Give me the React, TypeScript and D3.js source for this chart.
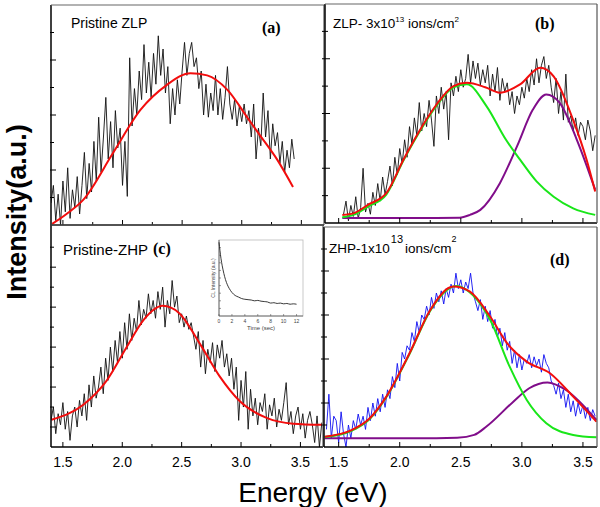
import React, { useEffect, useRef } from 'react';
import * as d3 from 'd3';

// all raw spectra are sampled every 0.02 eV
const eStep = 0.02;

// (a) Pristine ZLP, raw spectrum from 1.40 eV
const rawAStart = 1.40;
const rawA = [
  10, 18, 2, 14, 0, 20, 6, 26, 3, 16, 8, 22, 5, 18, 33, 12, 28, 15, 38, 20,
  49, 24, 40, 58, 30, 47, 26, 52, 35, 44, 18, 38, 13, 76, 45, 62, 50, 70, 57, 82,
  60, 74, 58, 78, 64, 86, 68, 80, 60, 72, 46, 62, 50, 66, 55, 70, 83, 68, 78, 83,
  72, 76, 62, 70, 50, 64, 49, 60, 52, 68, 50, 62, 48, 58, 72, 55, 48, 57, 45, 54,
  47, 55, 46, 52, 40, 55, 30, 44, 36, 60, 40, 52, 30, 46, 36, 42, 28, 38, 24, 34,
  26, 39, 30,
];

// (b) ZLP 3x10^13, raw spectrum from 1.54 eV
const rawBStart = 1.54;
const rawB = [
  4, 10, 1, 8, 3, 12, 2, 7, 25, 5, 9, 4, 14, 8, 18, 10, 21, 13, 19, 26,
  17, 30, 22, 34, 27, 38, 30, 44, 36, 48, 40, 55, 42, 50, 44, 56, 47, 35, 58, 50,
  62, 52, 60, 38, 64, 58, 67, 60, 70, 62, 66, 77, 64, 74, 66, 73, 63, 70, 64, 72,
  58, 68, 60, 71, 56, 66, 60, 64, 54, 60, 50, 58, 54, 62, 57, 66, 60, 70, 63, 75,
  64, 72, 76, 66, 72, 62, 55, 66, 50, 60, 47, 68, 46, 49, 42, 48, 40, 46, 44, 38,
  47, 42, 33, 40,
];

// (c) Pristine ZHP, raw spectrum from 1.40 eV
const rawCStart = 1.40;
const rawC = [
  12, 18, 6, 15, 10, 20, 8, 16, 3, 14, 18, 9, 21, 14, 24, 12, 28, 18, 32, 22,
  27, 36, 24, 40, 30, 45, 34, 48, 38, 52, 40, 56, 44, 60, 48, 58, 52, 66, 55, 62,
  58, 69, 60, 66, 58, 70, 62, 72, 54, 66, 60, 75, 63, 68, 56, 60, 54, 59, 53, 56,
  50, 44, 52, 36, 48, 33, 44, 38, 47, 34, 46, 40, 48, 36, 42, 32, 40, 26, 36, 12,
  30, 18, 34, 8, 26, 14, 22, 10, 20, 16, 24, 8, 19, 14, 22, 9, 17, 12, 20, 29,
  10, 16, 6, 14, 18, 8, 15, 4, 12, 16, 10, 2, 14, 0, 11,
];

// (d) ZHP 1x10^13, raw spectrum from 1.40 eV
const rawDStart = 1.40;
const rawD = [
  8, 24, 4, 14, 12, 2, 16, 6, 0, 10, 4, 12, 8, 15, 10, 14, 8, 18, 12, 20,
  14, 22, 16, 24, 18, 26, 22, 32, 27, 38, 30, 43, 40, 46, 44, 52, 48, 57, 52, 60,
  58, 64, 60, 68, 63, 70, 66, 71, 65, 72, 68, 74, 70, 79, 72, 76, 70, 75, 72, 79,
  70, 66, 62, 67, 58, 64, 57, 62, 54, 58, 50, 54, 46, 52, 44, 48, 38, 44, 36, 42,
  35, 40, 38, 42, 36, 41, 37, 40, 34, 42, 38, 36, 30, 28, 24, 29, 22, 26, 18, 24,
  16, 21, 14, 20, 15, 19, 13, 18, 12, 17, 14,
];

// fitted curves, [energy eV, intensity]
const fitA: [number, number][] = [
  [1.41, 0.5], [1.53, 5], [1.67, 11.4], [1.92, 32.7], [2.15, 52.3], [2.37, 63.6],
  [2.57, 69], [2.71, 68], [2.88, 61.4], [3.05, 48.6], [3.15, 41], [3.30, 29.5], [3.43, 17.3],
];
const fitBTotal: [number, number][] = [
  [1.53, 3.7], [1.62, 4.4], [1.74, 8.3], [1.89, 13.6], [2.03, 28.9], [2.15, 41],
  [2.30, 54], [2.44, 62.5], [2.55, 64], [2.70, 62], [2.82, 59.5], [2.985, 63.3],
  [3.15, 70.9], [3.26, 67], [3.42, 47], [3.53, 28.9], [3.60, 14.4],
];
const fitBLow: [number, number][] = [
  [1.53, 2.6], [1.62, 3.7], [1.74, 7.5], [1.89, 13], [2.03, 28.5], [2.15, 40.5],
  [2.30, 53.5], [2.44, 62], [2.55, 63.3], [2.71, 53.4], [2.87, 38], [2.985, 28.9],
  [3.12, 19], [3.26, 12], [3.42, 6.7], [3.60, 3.7],
];
const fitBHigh: [number, number][] = [
  [1.53, 2.3], [2.30, 2.3], [2.49, 2.4], [2.575, 3.7], [2.66, 6], [2.82, 18.2],
  [2.96, 35], [3.09, 51.8], [3.20, 58.7], [3.31, 54.9], [3.45, 38], [3.60, 15.2],
];
const fitC: [number, number][] = [
  [1.405, 12.3], [1.672, 19], [1.87, 30], [2.04, 45.3], [2.18, 57.3], [2.34, 63.6],
  [2.48, 60.3], [2.65, 46.8], [2.82, 31.8], [2.99, 20.6], [3.22, 13], [3.44, 10.5], [3.68, 10],
];
const fitDTotal: [number, number][] = [
  [1.386, 4.7], [1.61, 7.8], [1.75, 12.8], [1.89, 22.9], [2.08, 42.6], [2.25, 62.3],
  [2.44, 72.9], [2.575, 70.6], [2.74, 59.3], [2.88, 47.1], [3.04, 38.8], [3.23, 33.5],
  [3.42, 22.9], [3.61, 11.5],
];
const fitDLow: [number, number][] = [
  [1.386, 4.5], [1.61, 7.5], [1.75, 12.5], [1.89, 22.6], [2.08, 42.3], [2.25, 62],
  [2.46, 73.2], [2.60, 69], [2.74, 57.8], [2.90, 36.5], [3.04, 21.4], [3.20, 10.8],
  [3.42, 5.5], [3.61, 4.4],
];
const fitDHigh: [number, number][] = [
  [1.386, 4], [2.30, 4], [2.47, 4.2], [2.61, 5.5], [2.71, 9.3], [2.93, 20.6],
  [3.06, 26.7], [3.21, 29.3], [3.36, 25.9], [3.61, 12.3],
];

// inset: CL intensity decay vs time (sec)
const insetDecay: [number, number][] = [
  [0, 0.97], [0.15, 0.86], [0.3, 0.76], [0.5, 0.66], [0.75, 0.56], [1.0, 0.48],
  [1.3, 0.41], [1.6, 0.36], [2.0, 0.31], [2.5, 0.27], [3.0, 0.25], [3.5, 0.23],
  [4.0, 0.22], [4.5, 0.215], [5.0, 0.21], [5.5, 0.2], [6.0, 0.205], [6.5, 0.195],
  [7.0, 0.19], [7.5, 0.185], [8.0, 0.17], [8.5, 0.175], [9.0, 0.165], [9.5, 0.17],
  [10.0, 0.16], [10.5, 0.165], [11.0, 0.155], [11.5, 0.16], [12.0, 0.155],
];

const energyTicks = [1.5, 1.75, 2.0, 2.25, 2.5, 2.75, 3.0, 3.25, 3.5];
const energyLabels = [1.5, 2.0, 2.5, 3.0, 3.5];
const yTicksTop = [12.5, 25, 37.5, 50, 62.5, 75, 87.5];
const yTicksC = [9, 18, 27, 36, 45, 54, 63, 72, 81, 90];
const yTicksD = [10, 20, 30, 40, 50, 60, 70, 80, 90];
const insetTimeTicks = [0, 2, 4, 6, 8, 10, 12];
const insetYTicks = [0.1, 0.2, 0.3, 0.4, 0.5, 0.6, 0.7, 0.8, 0.9];

const RED = '#f20d0d';
const GREEN = '#19e619';
const PURPLE = '#800d8a';
const BLUE = '#1010f0';
const SANS = '"Liberation Sans", Arial, sans-serif';
const SERIF = '"Liberation Serif", "Times New Roman", serif';

const App: React.FC = () => {
  const svgRef = useRef<SVGSVGElement>(null);

  useEffect(() => {
    if (!svgRef.current) return;
    const svg = d3.select(svgRef.current);
    svg.selectAll('*').remove();

    const leftDomain: [number, number] = [1.4, 3.69];
    const rightDomain: [number, number] = [1.38, 3.615];

    const panels = [
      { key: 'a', x0: 51, x1: 324, y0: 5, y1: 225, dom: leftDomain, raw: rawA, start: rawAStart, rawColor: '#111',
        fits: [{ d: fitA, c: RED }], yTicks: yTicksTop, major: (v: number) => v % 25 === 0, cross: false, labels: false },
      { key: 'b', x0: 325, x1: 597, y0: 4, y1: 223, dom: rightDomain, raw: rawB, start: rawBStart, rawColor: '#111',
        fits: [{ d: fitBHigh, c: PURPLE }, { d: fitBLow, c: GREEN }, { d: fitBTotal, c: RED }],
        yTicks: yTicksTop, major: (v: number) => v % 25 === 0, cross: true, labels: false },
      { key: 'c', x0: 51, x1: 323, y0: 225, y1: 447, dom: leftDomain, raw: rawC, start: rawCStart, rawColor: '#111',
        fits: [{ d: fitC, c: RED }], yTicks: yTicksC, major: (v: number) => (v / 9) % 2 === 1, cross: false, labels: true },
      { key: 'd', x0: 324, x1: 597, y0: 227, y1: 447, dom: rightDomain, raw: rawD, start: rawDStart, rawColor: BLUE,
        fits: [{ d: fitDHigh, c: PURPLE }, { d: fitDLow, c: GREEN }, { d: fitDTotal, c: RED }],
        yTicks: yTicksD, major: (v: number) => v % 20 === 0, cross: true, labels: true },
    ];

    const defs = svg.append('defs');

    panels.forEach(p => {
      const x = d3.scaleLinear().domain(p.dom).range([p.key === 'b' ? 324 : p.x0, p.x1]);
      const y = d3.scaleLinear().domain([0, 100]).range([p.y1, p.y0]);
      const g = svg.append('g');

      defs.append('clipPath').attr('id', `clip-${p.key}`)
        .append('rect').attr('x', p.x0).attr('y', p.y0)
        .attr('width', p.x1 - p.x0).attr('height', p.y1 - p.y0);

      const plot = g.append('g').attr('clip-path', `url(#clip-${p.key})`);
      const rawLine = d3.line<number>()
        .x((_, i) => x(p.start + i * eStep))
        .y(v => y(v));
      plot.append('path').datum(p.raw)
        .attr('d', rawLine)
        .attr('fill', 'none')
        .attr('stroke', p.rawColor)
        .attr('stroke-width', 0.9);

      const fitLine = d3.line<[number, number]>()
        .x(d => x(d[0]))
        .y(d => y(d[1]))
        .curve(d3.curveMonotoneX);
      p.fits.forEach(f => {
        plot.append('path').datum(f.d)
          .attr('d', fitLine)
          .attr('fill', 'none')
          .attr('stroke', f.c)
          .attr('stroke-width', 2);
      });

      // frame
      g.append('line').attr('x1', p.x0).attr('x2', p.x0).attr('y1', p.y0).attr('y2', p.y1)
        .attr('stroke', '#000').attr('stroke-width', 1.5);
      g.append('line').attr('x1', p.x0).attr('x2', p.x1).attr('y1', p.y1).attr('y2', p.y1)
        .attr('stroke', '#000').attr('stroke-width', 1.5);
      g.append('line').attr('x1', p.x0).attr('x2', p.x1).attr('y1', p.y0).attr('y2', p.y0)
        .attr('stroke', '#666').attr('stroke-width', 1.2);
      g.append('line').attr('x1', p.x1).attr('x2', p.x1).attr('y1', p.y0).attr('y2', p.y1)
        .attr('stroke', '#555').attr('stroke-width', 1.2);

      // bottom ticks (inward)
      g.selectAll('.xt').data(energyTicks).enter().append('line')
        .attr('x1', d => x(d)).attr('x2', d => x(d))
        .attr('y1', p.y1).attr('y2', d => p.y1 - (d % 0.5 === 0 ? 5 : 3))
        .attr('stroke', '#000').attr('stroke-width', 1);

      // left ticks
      g.selectAll('.yt').data(p.yTicks).enter().append('line')
        .attr('x1', p.cross ? p.x0 - 3 : p.x0 - 1)
        .attr('x2', d => p.x0 + (p.major(d) ? 5 : 3))
        .attr('y1', d => y(d)).attr('y2', d => y(d))
        .attr('stroke', '#000').attr('stroke-width', 1);

      if (p.labels) {
        g.selectAll('.xl').data(energyLabels).enter().append('text')
          .attr('x', d => x(d))
          .attr('y', 467)
          .attr('text-anchor', 'middle')
          .style('font-family', SANS)
          .style('font-size', '14px')
          .text(d => d.toFixed(1));
      }
    });

    // panel titles
    const title = (xp: number, yp: number, size: number) =>
      svg.append('text').attr('x', xp).attr('y', yp)
        .style('font-family', SANS).style('font-size', `${size}px`);

    title(71, 28, 14).text('Pristine ZLP');
    const tb = title(333, 28, 13.5);
    tb.append('tspan').text('ZLP- 3x10');
    tb.append('tspan').attr('dy', -6).style('font-size', '8px').text('13');
    tb.append('tspan').attr('dy', 6).text(' ions/cm');
    tb.append('tspan').attr('dy', -6).style('font-size', '8px').text('2');
    title(63, 255, 15).text('Pristine-ZHP');
    const td = title(329, 253, 13.5);
    td.append('tspan').text('ZHP-1x10');
    td.append('tspan').attr('dy', -10).attr('dx', 1).style('font-size', '11px').text('13');
    td.append('tspan').attr('dy', 10).attr('dx', 2).text('ions/cm');
    td.append('tspan').attr('dy', -11).style('font-size', '9px').text('2');

    const tag = (xp: number, yp: number, t: string) =>
      svg.append('text').attr('x', xp).attr('y', yp)
        .style('font-family', SERIF).style('font-weight', 'bold').style('font-size', '16px').text(t);
    tag(262, 33, '(a)');
    tag(535, 29, '(b)');
    tag(153, 254, '(c)');
    tag(550, 265, '(d)');

    // inset
    const ix = d3.scaleLinear().domain([0, 13]).range([219, 303]);
    const iy = d3.scaleLinear().domain([0, 1]).range([316, 240]);
    const inset = svg.append('g');
    inset.append('rect').attr('x', 219).attr('y', 240).attr('width', 84).attr('height', 76)
      .attr('fill', '#fff').attr('stroke', '#bbb').attr('stroke-width', 0.8);
    inset.append('line').attr('x1', 219).attr('x2', 219).attr('y1', 240).attr('y2', 316)
      .attr('stroke', '#555').attr('stroke-width', 0.8);
    inset.append('line').attr('x1', 219).attr('x2', 303).attr('y1', 316).attr('y2', 316)
      .attr('stroke', '#555').attr('stroke-width', 0.8);
    inset.selectAll('.it').data(insetTimeTicks).enter().append('line')
      .attr('x1', d => ix(d)).attr('x2', d => ix(d)).attr('y1', 316).attr('y2', 314)
      .attr('stroke', '#555').attr('stroke-width', 0.6);
    inset.selectAll('.iyt').data(insetYTicks).enter().append('line')
      .attr('x1', 219).attr('x2', 221).attr('y1', d => iy(d)).attr('y2', d => iy(d))
      .attr('stroke', '#555').attr('stroke-width', 0.6);
    inset.selectAll('.il').data(insetTimeTicks).enter().append('text')
      .attr('x', d => ix(d)).attr('y', 322.5).attr('text-anchor', 'middle')
      .style('font-family', SANS).style('font-size', '5px').style('fill', '#444')
      .text(d => String(d));
    inset.append('text').attr('x', 261).attr('y', 329.5).attr('text-anchor', 'middle')
      .style('font-family', SANS).style('font-size', '6px').style('fill', '#444').text('Time (sec)');
    inset.append('text').attr('transform', 'translate(214.5, 278) rotate(-90)').attr('text-anchor', 'middle')
      .style('font-family', SANS).style('font-size', '5px').style('fill', '#444').text('CL Intensity (a.u.)');
    inset.append('path').datum(insetDecay)
      .attr('d', d3.line<[number, number]>().x(d => ix(d[0])).y(d => iy(d[1])).curve(d3.curveMonotoneX))
      .attr('fill', 'none').attr('stroke', '#222').attr('stroke-width', 0.9);

    // axis titles
    svg.append('text').attr('x', 313).attr('y', 502).attr('text-anchor', 'middle')
      .style('font-family', SANS).style('font-size', '28px').text('Energy (eV)');
    svg.append('text').attr('transform', 'translate(26, 212) rotate(-90)').attr('text-anchor', 'middle')
      .style('font-family', SANS).style('font-weight', 'bold').style('font-size', '27px').text('Intensity(a.u.)');
  }, []);

  return (
    <svg ref={svgRef} width={600} height={507}
      style={{ position: 'absolute', left: 0, top: 0, background: '#fff' }} />
  );
};

export default App;
